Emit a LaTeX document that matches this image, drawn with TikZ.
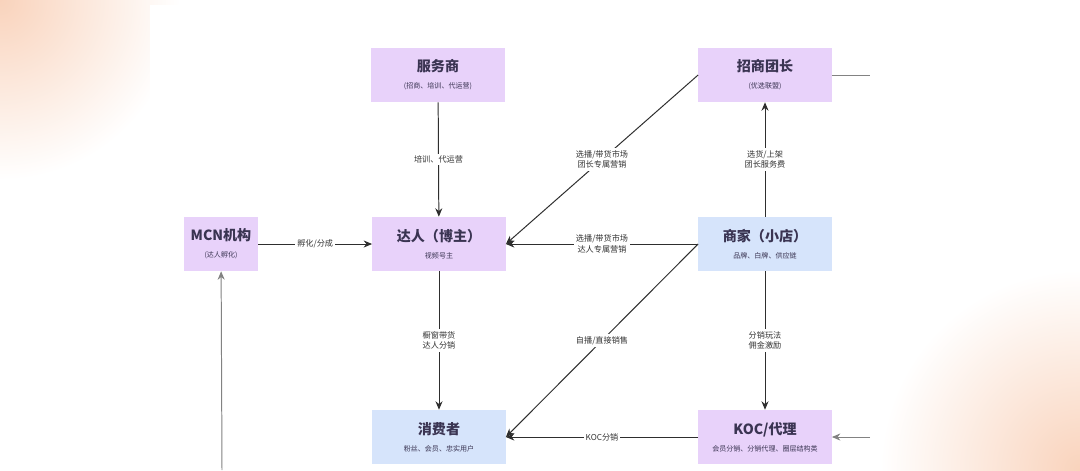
\documentclass[tikz,border=0pt]{standalone}
\usepackage{fontspec}
\setmainfont{Noto Sans CJK SC}
\usetikzlibrary{arrows.meta}

\definecolor{boxpurple}{HTML}{E8D2FA}
\definecolor{boxblue}{HTML}{D6E4FB}
\definecolor{titleink}{HTML}{3A3452}
\definecolor{labelink}{HTML}{333333}
\definecolor{lineink}{HTML}{2E2E2E}
\definecolor{peach}{HTML}{F9D3BC}

\newcommand{\subline}[1]{{\fontsize{5}{6}\selectfont\mdseries #1}}

\begin{document}
\begin{tikzpicture}[x=0.025cm, y=-0.025cm,
    pbox/.style={rectangle, fill=boxpurple, draw=none,
                 minimum width=3.33cm, minimum height=1.35cm,
                 align=center, text=titleink,
                 font=\fontsize{10}{11}\selectfont\bfseries},
    bbox/.style={pbox, fill=boxblue},
    flow/.style={-{Stealth[length=6pt, width=5pt]}, draw=lineink,
                 line width=0.7pt},
    plain/.style={draw=lineink!60, line width=0.6pt},
    elabel/.style={fill=white, text=labelink, align=center,
                   font=\fontsize{5.8}{7.5}\selectfont, inner sep=1.5pt},
]

% Background -- slide with peach corners
\useasboundingbox (0,0) rectangle (1080,470);
\fill[white] (0,0) rectangle (1080,470);
\shade[inner color=peach, outer color=white] (0,0) circle (4.5cm);
\shade[inner color=peach, outer color=white] (1080,470) circle (5cm);
\fill[white] (150,5) rectangle (870,470);

% Nodes
\node[pbox] (fws)  at (438,75)  {服务商\\[1pt]\subline{(招商、培训、代运营)}};
\node[pbox] (zstz) at (765,75)  {招商团长\\[1pt]\subline{(优选联盟)}};
\node[pbox, minimum width=1.85cm]
            (mcn)  at (221,244) {MCN机构\\[1pt]\subline{(达人孵化)}};
\node[pbox] (dr)   at (439,244) {达人（博主）\\[1pt]\subline{视频号主}};
\node[bbox] (sj)   at (765,244) {商家（小店）\\[1pt]\subline{品牌、白牌、供应链}};
\node[bbox] (xfz)  at (439,437) {消费者\\[1pt]\subline{粉丝、会员、忠实用户}};
\node[pbox] (koc)  at (765,437) {KOC/代理\\[1pt]\subline{会员分销、分销代理、圈层结构类}};

% Loose ends at the panel edges
\coordinate (zsout) at (870,75);
\coordinate (kocin) at (870,437);
\coordinate (mcnin) at (222,470);

% Flows into the creator
\draw[flow] (fws) -- node[elabel] {培训、代运营} (dr);
\draw[flow] (mcn) -- node[elabel] {孵化/分成} (dr);
\draw[flow] (zstz.west) -- node[elabel] {选播/带货市场\\团长专属营销} (dr.east);
\draw[flow] (sj) -- node[elabel] {选播/带货市场\\达人专属营销} (dr);

% Merchant flows
\draw[flow] (sj) -- node[elabel] {选货/上架\\团长服务费} (zstz);
\draw[flow] (sj.west) -- node[elabel] {自播/直接销售} (xfz.east);
\draw[flow] (sj) -- node[elabel] {分销玩法\\佣金激励} (koc);

% Flows to the consumer
\draw[flow] (dr) -- node[elabel] {橱窗带货\\达人分销} (xfz);
\draw[flow] (koc) -- node[elabel] {KOC分销} (xfz);

% Edge lines
\draw[plain] (zstz) -- (zsout);
\draw[flow, draw=lineink!60] (kocin) -- (koc);
\draw[flow, draw=lineink!60] (mcnin) -- (mcn);

\end{tikzpicture}
\end{document}
